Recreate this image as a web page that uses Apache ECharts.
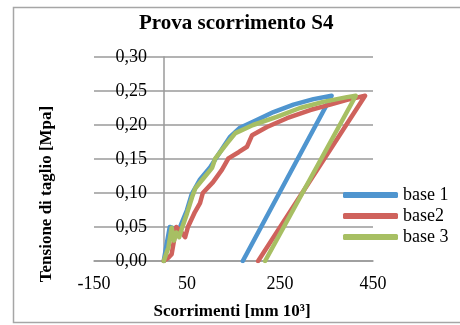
<!DOCTYPE html>
<html>
<head>
<meta charset="utf-8">
<script src="https://cdn.jsdelivr.net/npm/echarts@6/dist/echarts.min.js"></script>
<style>
  html, body { margin: 0; padding: 0; background: #fff; }
  #chart { width: 460px; height: 325px; }
</style>
</head>
<body>
<div id="chart"></div>
<script>
// dati (x in mm 10^3, y in MPa)
const base1X = [0, 5, 9, 13, 22, 30, 38, 50, 60, 78, 100, 114, 142, 164, 193, 236, 279, 322, 361, 170];
const base1Y = [0, 0.02, 0.035, 0.05, 0.048, 0.04, 0.055, 0.075, 0.098, 0.12, 0.138, 0.153, 0.182, 0.196, 0.205, 0.219, 0.23, 0.238, 0.243, 0];

const base2X = [0, 10, 17, 22, 27, 35, 46, 52, 67, 78, 84, 106, 125, 139, 161, 179, 190, 222, 265, 315, 358, 394, 433, 203];
const base2Y = [0, 0.005, 0.01, 0.03, 0.05, 0.045, 0.035, 0.05, 0.072, 0.085, 0.1, 0.116, 0.134, 0.151, 0.16, 0.168, 0.185, 0.197, 0.21, 0.222, 0.23, 0.237, 0.243, 0];

const base3X = [0, 10, 17, 22, 27, 33, 40, 50, 61, 68, 86, 104, 111, 136, 154, 192, 243, 293, 343, 394, 413, 218];
const base3Y = [0, 0.02, 0.049, 0.03, 0.042, 0.035, 0.05, 0.07, 0.094, 0.107, 0.122, 0.137, 0.151, 0.173, 0.188, 0.2, 0.212, 0.225, 0.234, 0.241, 0.243, 0];

const seriesNames = ["base 1", "base2", "base 3"];
const seriesColors = ["#4f95cf", "#cf625c", "#a7bf63"];

const zip = (xs, ys) => xs.map((x, i) => [x, ys[i]]);
const seriesData = [zip(base1X, base1Y), zip(base2X, base2Y), zip(base3X, base3Y)];

const serif = "Liberation Serif";
const chart = echarts.init(document.getElementById("chart"));

chart.setOption({
  backgroundColor: "#fff",
  animation: false,
  title: {
    text: "Prova scorrimento S4",
    left: 139,
    top: 13,
    padding: 0,
    textStyle: { fontFamily: serif, fontSize: 21, fontWeight: "bold", color: "#000" },
  },
  graphic: [
    {
      type: "rect",
      shape: { x: 13.5, y: 7.5, width: 460, height: 315 },
      style: { fill: "none", stroke: "#a6a6a6", lineWidth: 1.5 },
      silent: true,
    },
    {
      type: "text",
      x: 47,
      y: 194,
      rotation: Math.PI / 2,
      style: {
        text: "Tensione di taglio [Mpa]",
        font: "bold 17px " + serif,
        fill: "#000",
        align: "center",
        verticalAlign: "middle",
      },
    },
    {
      type: "text",
      x: 232,
      y: 312,
      style: {
        text: "Scorrimenti [mm 10³]",
        font: "bold 17px " + serif,
        fill: "#000",
        align: "center",
        verticalAlign: "middle",
      },
    },
  ],
  legend: {
    orient: "vertical",
    left: 343,
    top: 186,
    padding: 0,
    itemWidth: 55,
    itemHeight: 6,
    itemGap: 3,
    icon: "roundRect",
    data: seriesNames,
    textStyle: { fontFamily: serif, fontSize: 18, color: "#000" },
  },
  grid: { left: 94, right: 87, top: 57, bottom: 64 },
  xAxis: {
    type: "value",
    min: -150,
    max: 450,
    interval: 200,
    axisLine: { show: true, lineStyle: { color: "#9a9a9a", width: 1.5 } },
    axisTick: { show: false },
    splitLine: { show: false },
    axisLabel: { fontFamily: serif, fontSize: 18, color: "#000", margin: 14 },
  },
  yAxis: {
    type: "value",
    min: 0,
    max: 0.3,
    interval: 0.05,
    axisLine: { show: true, onZero: true, lineStyle: { color: "#9a9a9a", width: 1.5 } },
    axisTick: { show: false },
    splitLine: { show: true, lineStyle: { color: "#9a9a9a", width: 1.5 } },
    axisLabel: {
      fontFamily: serif,
      fontSize: 18,
      color: "#000",
      margin: -53,
      formatter: (v) => v.toFixed(2).replace(".", ","),
    },
  },
  series: seriesNames.map((name, i) => ({
    name,
    type: "line",
    data: seriesData[i],
    showSymbol: false,
    symbol: "none",
    smooth: false,
    color: seriesColors[i],
    lineStyle: { color: seriesColors[i], width: 4.5, cap: "round", join: "round" },
  })),
});
</script>
</body>
</html>
